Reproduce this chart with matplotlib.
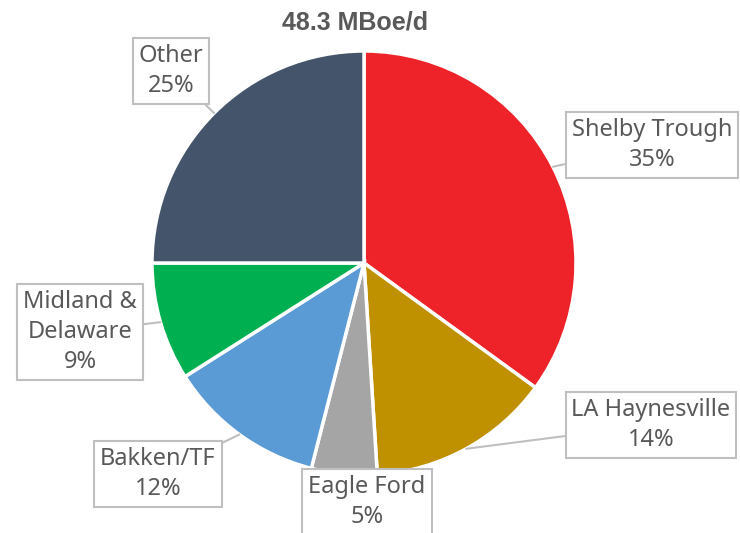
import matplotlib.pyplot as plt
import numpy as np

# data
labels = ['Shelby Trough', 'LA Haynesville', 'Eagle Ford', 'Bakken/TF', 'Midland &\nDelaware', 'Other']
shares = [35, 14, 5, 12, 9, 25]
colors = ['#EE2229', '#BF9000', '#A5A5A5', '#5B9BD5', '#00B050', '#44546A']
title = '48.3 MBoe/d'

# label box centres in pixel coords (x right, y down)
box_pos = [(652, 145), (651, 425), (367, 502), (158, 474), (80, 332), (171, 71)]

W, H = 740, 533
fig = plt.figure(figsize=(W / 100, H / 100), dpi=100)
ax = fig.add_axes([0, 0, 1, 1])

cx, cy, r = 364, H - 263, 212
wedges, _ = ax.pie(shares, colors=colors, startangle=90, counterclock=False,
                   center=(cx, cy), radius=r, frame=True,
                   wedgeprops=dict(edgecolor='white', linewidth=2.5))
ax.set_xlim(0, W)
ax.set_ylim(0, H)
ax.set_aspect('equal')
ax.axis('off')

font = ['Noto Sans', 'DejaVu Sans']
for w, lab, val, (bx, by) in zip(wedges, labels, shares, box_pos):
    ang = np.deg2rad((w.theta1 + w.theta2) / 2)
    px, py = cx + r * np.cos(ang), cy + r * np.sin(ang)
    ax.annotate(f'{lab}\n{val}%', xy=(px, py), xytext=(bx, H - by),
                ha='center', va='center', fontsize=17, color='#595959',
                family=font, linespacing=1.35,
                bbox=dict(boxstyle='square,pad=0.25', fc='white', ec='#BFBFBF', lw=1.5),
                arrowprops=dict(arrowstyle='-', color='#BFBFBF', lw=1.5,
                                shrinkA=0, shrinkB=0))

ax.text(355, H - 22, title, ha='center', va='center', fontsize=18,
        fontweight='bold', color='#595959',
        family=['Liberation Sans Narrow', 'Liberation Sans', 'DejaVu Sans'])

fig.savefig('out.png', dpi=100)
